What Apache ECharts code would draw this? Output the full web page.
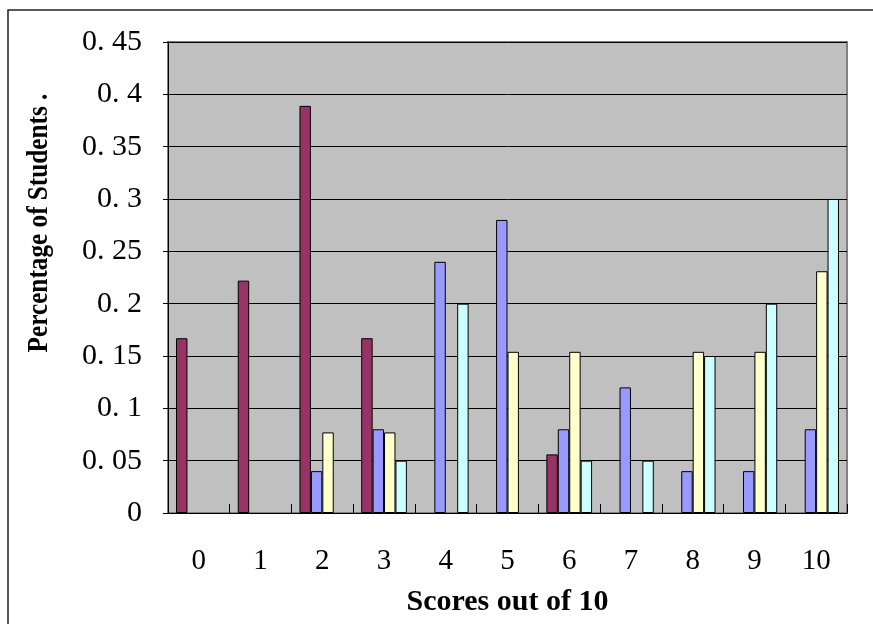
<!DOCTYPE html>
<html>
<head>
<meta charset="utf-8">
<script src="https://cdn.jsdelivr.net/npm/echarts@6/dist/echarts.min.js"></script>
<style>
  html, body { margin: 0; padding: 0; background: #fff; }
  #chart { width: 873px; height: 624px; }
</style>
</head>
<body>
<div id="chart"></div>
<script>
// scores 0..10
var scores = ['0', '1', '2', '3', '4', '5', '6', '7', '8', '9', '10'];

// share of students per score, one array per group
var groupA = [0.167, 0.222, 0.389, 0.167, 0, 0, 0.056, 0, 0, 0, 0];
var groupB = [0, 0, 0.04, 0.08, 0.24, 0.28, 0.08, 0.12, 0.04, 0.04, 0.08];
var groupC = [0, 0, 0.077, 0.077, 0, 0.154, 0.154, 0, 0.154, 0.154, 0.231];
var groupD = [0, 0, 0, 0.05, 0.2, 0, 0.05, 0.05, 0.15, 0.2, 0.3];

var colors = ['#993366', '#9999ff', '#ffffcc', '#ccffff'];
var seriesNames = ['Group A', 'Group B', 'Group C', 'Group D'];
var seriesData = [groupA, groupB, groupC, groupD];

var chart = echarts.init(document.getElementById('chart'));

var series = [];
seriesData.forEach(function (d, i) {
    series.push({
        name: seriesNames[i],
        type: 'bar',
        // empty scores draw no bar
        data: d.map(function (v) { return v === 0 ? '-' : v; }),
        barGap: '0%',
        barCategoryGap: '26%',
        z: 2,
        itemStyle: {
            color: colors[i],
            borderColor: '#000',
            borderWidth: 1
        }
    });
});

var option = {
    animation: false,
    backgroundColor: '#fff',
    color: colors,
    grid: {
        left: 168,
        right: 26,
        top: 42,
        bottom: 111,
        show: true,
        backgroundColor: '#c0c0c0',
        borderColor: '#808080',
        borderWidth: 2
    },
    xAxis: {
        type: 'category',
        data: scores,
        z: 5,
        name: 'Scores out of 10',
        nameLocation: 'middle',
        nameGap: 74,
        nameTextStyle: {
            fontFamily: 'Liberation Serif',
            fontWeight: 'bold',
            fontSize: 30,
            color: '#000'
        },
        axisLine: { show: true, lineStyle: { color: '#000', width: 1 } },
        axisTick: {
            show: true,
            inside: true,
            length: 9,
            interval: 0,
            alignWithLabel: false,
            lineStyle: { color: '#000', width: 1 }
        },
        axisLabel: {
            margin: 34,
            fontFamily: 'Liberation Serif',
            fontSize: 29,
            color: '#000'
        }
    },
    yAxis: {
        type: 'value',
        min: 0,
        max: 0.45,
        interval: 0.05,
        axisLine: { show: true, lineStyle: { color: '#000', width: 1 } },
        axisTick: { show: true, length: 5, lineStyle: { color: '#000' } },
        splitLine: { lineStyle: { color: '#000', width: 1 } },
        axisLabel: {
            margin: 26,
            fontFamily: 'Liberation Serif',
            fontSize: 30,
            color: '#000',
            formatter: function (v) {
                return String(+v.toFixed(2)).replace('.', '. ');
            }
        }
    },
    graphic: [
        {
            type: 'rect',
            shape: { x: 8, y: 10, width: 900, height: 700 },
            style: { fill: 'none', stroke: '#222', lineWidth: 1.5 },
            silent: true
        },
        {
            type: 'text',
            x: 40,
            y: 223,
            rotation: Math.PI / 2,
            scaleX: 0.87,
            style: {
                text: 'Percentage of Students .',
                fontFamily: 'Liberation Serif',
                fontWeight: 'bold',
                fontSize: 29,
                fill: '#000',
                align: 'center',
                verticalAlign: 'middle'
            }
        }
    ],
    series: series
};

chart.setOption(option);
</script>
</body>
</html>
